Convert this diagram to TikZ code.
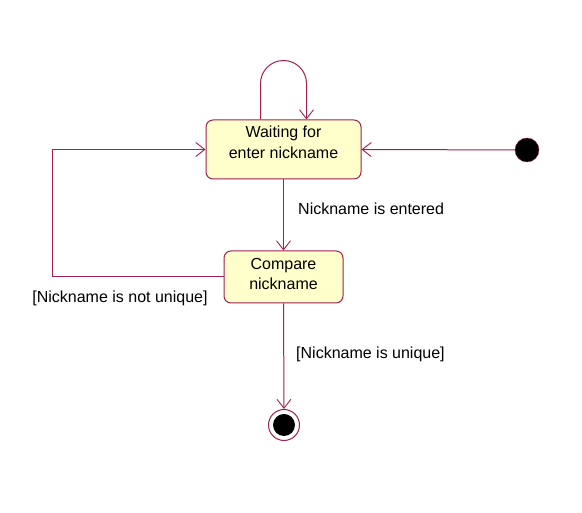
\documentclass[tikz,border=0pt]{standalone}
\usepackage{fontspec}
\setmainfont{Liberation Sans}
\usetikzlibrary{positioning, arrows.meta}
\definecolor{umlred}{RGB}{160,32,80}
\definecolor{umlfill}{RGB}{255,255,204}

\begin{document}
\begin{tikzpicture}[x=1pt,y=1pt,state/.style={draw=umlred,line width=1pt,rounded corners=7pt,fill=umlfill,align=center,font=\fontsize{16}{20.5}\selectfont,inner sep=0pt},arrow/.style={draw=umlred,line width=1pt,-{Straight Barb[length=9pt,width=14pt,line width=0.9pt]}},lbl/.style={font=\fontsize{16}{20}\selectfont,inner sep=0pt},start/.style={circle,draw=umlred,fill=black,minimum size=24pt,inner sep=0pt},stop/.style={circle,draw=umlred,line width=1pt,fill=white,minimum size=31pt,inner sep=0pt}]
\useasboundingbox (0,0) rectangle (582,513);
\node[state,minimum width=155pt,minimum height=59pt] (wait) at (283.5,363.5) {Waiting for\\enter nickname\\[-6pt]\mbox{}};
\node[state,minimum width=119pt,minimum height=52pt] (cmp) at (283.5,236) {Compare\\nickname\\[-14pt]\mbox{}};
\node[start] (init) at (527,363) {};
\node[stop] (final) at (284,88) {};
\fill (final.center) circle (11pt);
\draw[arrow] ([xshift=-23pt]wait.north) -- ++(0,36) arc[start angle=180,end angle=0,radius=23] -- ([xshift=23pt]wait.north);
\draw[arrow] (init) -- (wait.east);
\draw[arrow] (wait.south) -- (cmp.north);
\draw[arrow] (cmp.west) -- ++(-171,0) |- (wait.west);
\draw[arrow] (cmp.south) -- (final.north);
\node[lbl,anchor=west] (entered) at (298,304) {Nickname is entered};
\node[lbl] (notunique) at (120,215) {[Nickname is not unique]};
\node[lbl,anchor=west] (unique) at (296,159) {[Nickname is unique]};
\end{tikzpicture}
\end{document}
